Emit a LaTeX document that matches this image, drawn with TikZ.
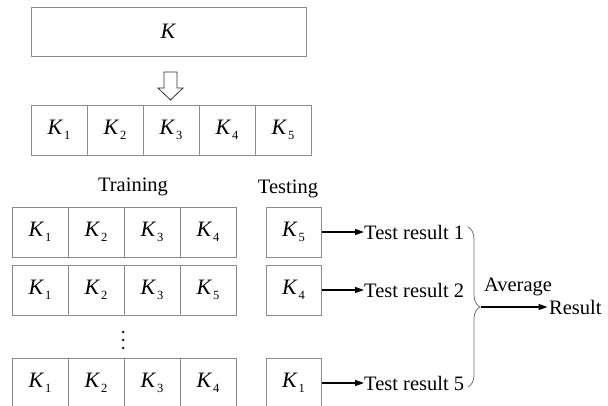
\documentclass[tikz,border=0pt]{standalone}
\usepackage{fontspec}
\setmainfont{Liberation Serif}
\usetikzlibrary{arrows.meta,decorations.pathreplacing}
\newcommand{\kk}[1]{{\fontsize{22}{24}\selectfont\textit{K}}\kern0.8pt\raisebox{-5.5pt}{\fontsize{12.5}{12}\selectfont #1}}
\begin{document}
\begin{tikzpicture}[x=1pt,y=-1pt,font=\fontsize{20.5}{24}\selectfont,
  cell/.style={draw=black!45, line width=0.8pt, minimum width=56pt, minimum height=50pt, inner sep=0pt},
  arr/.style={line width=1.3pt, -{Triangle[length=9pt,width=6pt]}},
  lbl/.style={inner sep=0pt},
  dot/.style={fill=black!85, draw=none, circle, inner sep=0pt, minimum size=3pt}]
\useasboundingbox (0,0) rectangle (608,406);
% top box
\node[cell, minimum width=275pt, minimum height=49pt] (K) at (168.5,31.5) {\fontsize{22}{24}\selectfont\textit{K}};
% hollow arrow
\draw[line width=0.8pt, black!80] (164,72) -- (177,72) -- (177,88) -- (183,88) -- (170.5,100) -- (158,88) -- (164,88) -- cycle;
% split row
\foreach \i in {1,...,5}{
  \node[cell] (r\i) at ({59+56*(\i-1)},130) {\kk{\i}};
}
% labels
\node (tr) at (133,187) {Training};
\node (te) at (288,189) {Testing};
% training rows
\node[cell] (a1) at (40,232) {\kk{1}};
\node[cell] (a2) at (96,232) {\kk{2}};
\node[cell] (a3) at (152,232) {\kk{3}};
\node[cell] (a4) at (208,232) {\kk{4}};
\node[cell] (b1) at (40,290) {\kk{1}};
\node[cell] (b2) at (96,290) {\kk{2}};
\node[cell] (b3) at (152,290) {\kk{3}};
\node[cell] (b4) at (208,290) {\kk{5}};
\node[dot] (d1) at (123,332) {};
\node[dot] (d2) at (123,340) {};
\node[dot] (d3) at (123,348) {};
\node[cell] (c1) at (40,383) {\kk{1}};
\node[cell] (c2) at (96,383) {\kk{2}};
\node[cell] (c3) at (152,383) {\kk{3}};
\node[cell] (c4) at (208,383) {\kk{4}};
% testing boxes
\node[cell, minimum width=55pt] (t1) at (293.5,232) {\kk{5}};
\node[cell, minimum width=55pt] (t2) at (293.5,290) {\kk{4}};
\node[cell, minimum width=55pt] (t3) at (293.5,383) {\kk{1}};
% results
\node[lbl, anchor=west] (s1) at (364,232) {Test result 1};
\node[lbl, anchor=west] (s2) at (364,290) {Test result 2};
\node[lbl, anchor=west] (s3) at (364,383) {Test result 5};
\draw[arr] (t1.east) ++(1,0) -- (s1.west);
\draw[arr] (t2.east) ++(1,0) -- (s2.west);
\draw[arr] (t3.east) ++(1,0) -- (s3.west);
% brace
\coordinate (bt) at (468,227);
\coordinate (bb) at (468,387);
\draw[black!55, line width=0.8pt, decorate, decoration={brace, amplitude=12pt}] (bt) -- (bb);
\coordinate (tip) at (481,307);
\node[lbl, anchor=west] (res) at (549,307) {Result};
\node (avg) at (518,287) {Average};
\draw[arr] (tip) -- ([xshift=-1.5pt]res.west);
\end{tikzpicture}
\end{document}
